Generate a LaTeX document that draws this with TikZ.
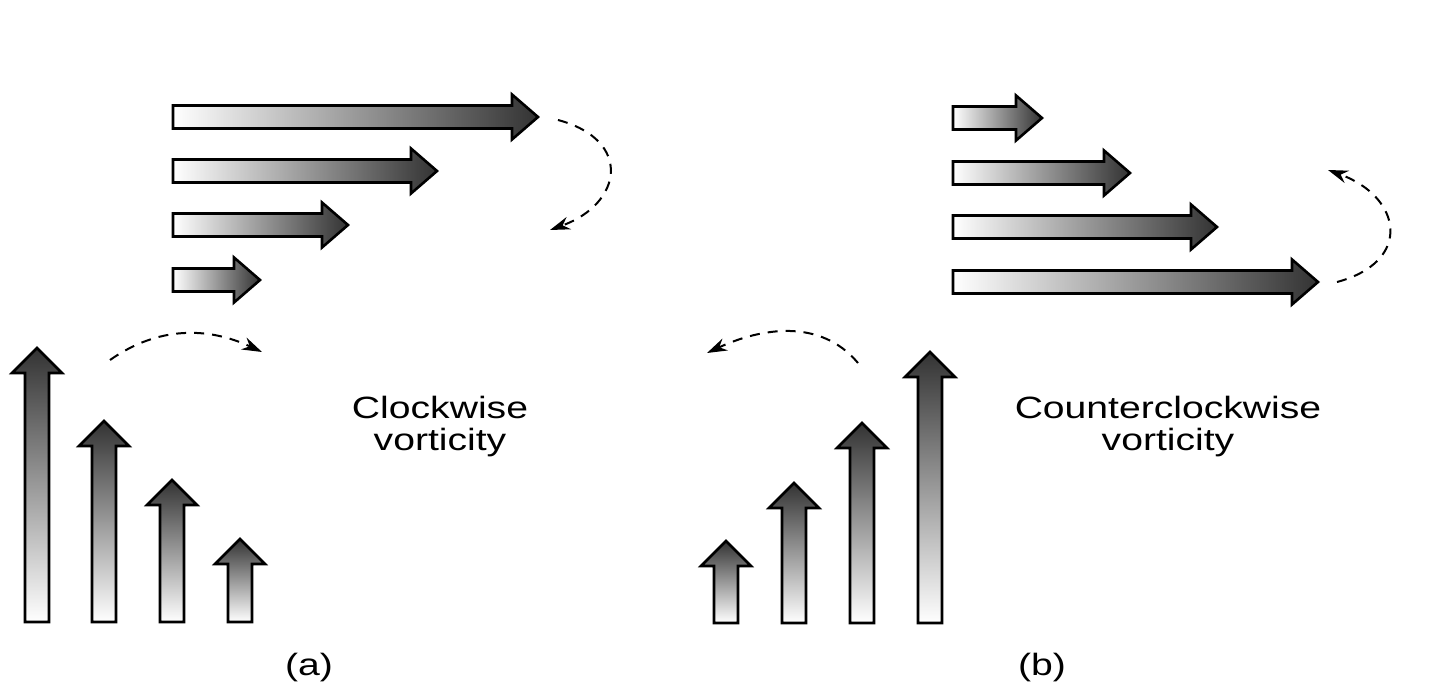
\documentclass[tikz,border=0pt]{standalone}
\usepackage{fontspec}
\newfontfamily\vortfont[FakeStretch=1.27]{Liberation Sans}
\usetikzlibrary{arrows.meta}

\begin{document}
\begin{tikzpicture}[
    x=0.5pt, y=-0.5pt,
    font=\vortfont\fontsize{15.4}{16}\selectfont,
    fatarrow/.style={draw=black, line width=1.3pt, line join=miter},
    hshade/.style={fatarrow, left color=white, middle color=black!30, right color=black!80},
    vshade/.style={fatarrow, bottom color=white, middle color=black!30, top color=black!80},
    swirl/.style={-{Stealth[length=10pt,width=6.5pt]}, line width=1pt, dash pattern=on 5pt off 4pt},
    vortlabel/.style={align=center}
]
\useasboundingbox (0,0) rectangle (1433,689);

% --- (a): flow slows downwards ---
\foreach \c/\t in {117/538, 171/437, 225/348, 280/260}
  \shade[hshade] (173,\c-11.5) -- (\t-26,\c-11.5) -- (\t-26,\c-22.5) -- (\t,\c)
    -- (\t-26,\c+22.5) -- (\t-26,\c+11.5) -- (173,\c+11.5) -- cycle;
\foreach \c/\t in {37/348, 104/421, 172/480, 240/539}
  \shade[vshade] (\c-12,622) -- (\c-12,\t+25) -- (\c-25,\t+25) -- (\c,\t)
    -- (\c+25,\t+25) -- (\c+12,\t+25) -- (\c+12,622) -- cycle;

\coordinate (a-r-start) at (558,120);
\coordinate (a-r-end) at (550,230);
\coordinate (a-l-start) at (110,360);
\coordinate (a-l-end) at (262,352);
\draw[swirl] (a-r-start) to[out=-15,in=20,looseness=1.8] (a-r-end);
\draw[swirl] (a-l-start) to[out=35,in=155] (a-l-end);

\node[vortlabel] (cw) at (440,427) {Clockwise\\vorticity};
\node (a) at (309,668) {(a)};

% --- (b): flow speeds up downwards ---
\foreach \c/\t in {118/1042, 173/1130, 227/1217, 282/1318}
  \shade[hshade] (953,\c-11.5) -- (\t-26,\c-11.5) -- (\t-26,\c-22.5) -- (\t,\c)
    -- (\t-26,\c+22.5) -- (\t-26,\c+11.5) -- (953,\c+11.5) -- cycle;
\foreach \c/\t in {726/541, 794/483, 862/423, 930/352}
  \shade[vshade] (\c-12,623) -- (\c-12,\t+25) -- (\c-25,\t+25) -- (\c,\t)
    -- (\c+25,\t+25) -- (\c+12,\t+25) -- (\c+12,623) -- cycle;

\coordinate (b-r-start) at (1337,282);
\coordinate (b-r-end) at (1328,170);
\coordinate (b-l-start) at (858,363);
\coordinate (b-l-end) at (707,353);
\draw[swirl] (b-r-start) to[out=15,in=-20,looseness=1.8] (b-r-end);
\draw[swirl] (b-l-start) to[out=130,in=25] (b-l-end);

\node[vortlabel] (ccw) at (1168,427) {Counterclockwise\\vorticity};
\node (b) at (1042,668) {(b)};

\end{tikzpicture}
\end{document}
